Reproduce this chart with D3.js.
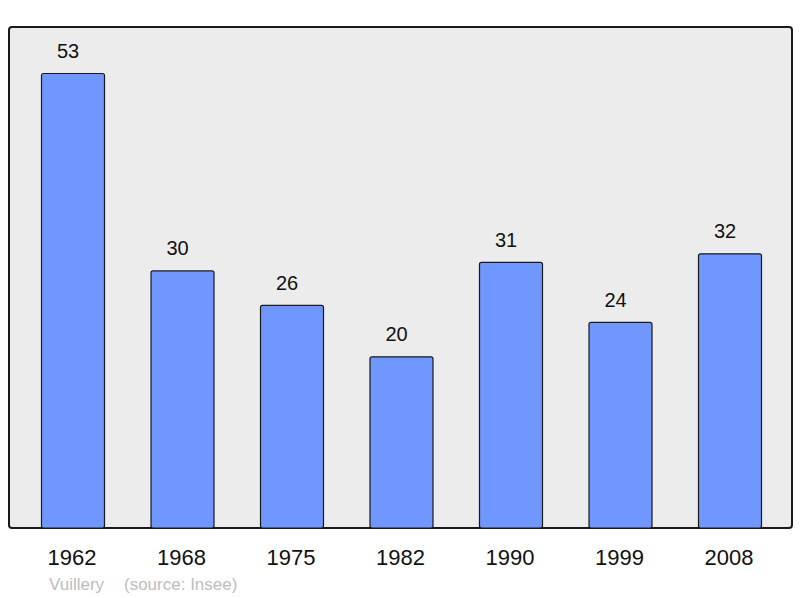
<!DOCTYPE html>
<html><head><meta charset="utf-8">
<script src="https://cdn.jsdelivr.net/npm/d3@7"></script>
<style>body{margin:0;background:#fff;}svg{display:block;}</style>
</head><body>
<svg id="chart" width="800" height="598"></svg>
<script>
const years = ["1962","1968","1975","1982","1990","1999","2008"];
const population = [53,30,26,20,31,24,32];
const townName = "Vuillery";
const sourceText = "(source: Insee)";

const svg = d3.select("#chart");
const panel = {x0: 9, y0: 27, x1: 792, y1: 528};
const font = "Liberation Sans, Arial, sans-serif";

svg.append("rect")
  .attr("x", panel.x0).attr("y", panel.y0)
  .attr("width", panel.x1 - panel.x0).attr("height", panel.y1 - panel.y0)
  .attr("rx", 3).attr("ry", 3)
  .attr("fill", "#ececec").attr("stroke", "#1a1a1a").attr("stroke-width", 2);

const x = d3.scaleBand().domain(years).range([17.75, 784.25])
  .paddingInner(0.4247).paddingOuter(0.21235);
const y = d3.scaleLinear().domain([0, 53]).range([panel.y1, 73]);

svg.selectAll("rect.bar").data(population).enter().append("rect")
  .attr("class", "bar")
  .attr("x", (d, i) => x(years[i]) + 0.5)
  .attr("y", d => y(d) + 0.5)
  .attr("width", x.bandwidth())
  .attr("height", d => panel.y1 - y(d) - 0.5)
  .attr("rx", 2).attr("ry", 2)
  .attr("fill", "#7097ff").attr("stroke", "#1a1a1a").attr("stroke-width", 1.2);

svg.selectAll("text.val").data(population).enter().append("text")
  .attr("x", (d, i) => x(years[i]) + x.bandwidth() / 2 - 4.5)
  .attr("y", d => y(d) - 15)
  .attr("text-anchor", "middle")
  .attr("font-family", font)
  .attr("font-size", 20).attr("fill", "#111")
  .text(d => d);

svg.selectAll("text.year").data(years).enter().append("text")
  .attr("x", d => x(d) + x.bandwidth() / 2 - 0.5)
  .attr("y", 565)
  .attr("text-anchor", "middle")
  .attr("font-family", font)
  .attr("font-size", 22).attr("fill", "#111")
  .text(d => d);

svg.append("text").attr("x", 49).attr("y", 590)
  .attr("font-family", font)
  .attr("font-size", 17).attr("fill", "#bdbdbd").text(townName);
svg.append("text").attr("x", 124).attr("y", 590)
  .attr("font-family", font)
  .attr("font-size", 17).attr("fill", "#bdbdbd").text(sourceText);
</script>
</body></html>
